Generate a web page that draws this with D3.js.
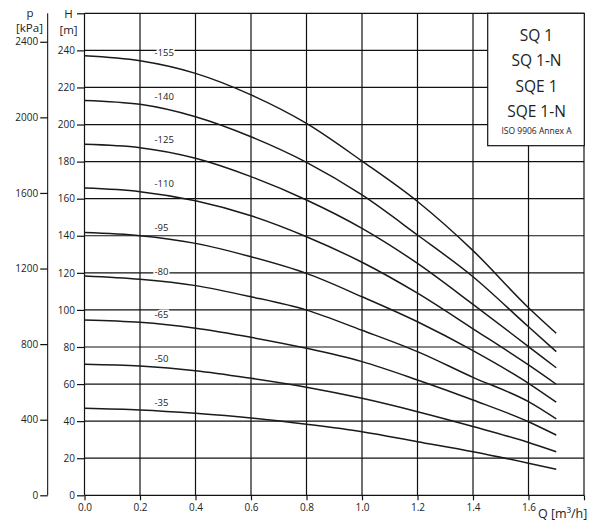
<!DOCTYPE html>
<html>
<head>
<meta charset="utf-8">
<script src="https://cdn.jsdelivr.net/npm/d3@7"></script>
<style>
  body { margin: 0; background: #fff; }
  svg { display: block; font-family: "Open Sans", sans-serif; }
</style>
</head>
<body>
<script>
// Données (H en m en fonction de Q en m³/h)
const flows = [0, 0.2, 0.4, 0.6, 0.8, 1.0, 1.2, 1.4, 1.6, 1.7]
const stages = ['-155', '-140', '-125', '-110', '-95', '-80', '-65', '-50', '-35']
const head155 = [237.1, 234.4, 227.6, 216.0, 200.6, 180.3, 158.5, 132.0, 101.2, 87.4]
const head140 = [213.0, 210.9, 204.2, 193.4, 179.6, 162.0, 140.4, 117.9, 90.9, 77.5]
const head125 = [189.3, 187.5, 181.8, 171.9, 159.3, 144.0, 125.1, 103.0, 80.2, 68.8]
const head110 = [165.7, 163.8, 158.9, 150.8, 139.5, 125.7, 109.0, 89.8, 70.3, 59.9]
const head95 = [141.7, 140.0, 135.9, 128.7, 119.7, 107.1, 93.6, 78.0, 60.4, 50.2]
const head80 = [118.3, 116.5, 113.1, 107.1, 99.9, 89.0, 77.5, 63.6, 50.5, 41.2]
const head65 = [94.6, 93.3, 90.1, 85.2, 79.3, 72.1, 62.2, 51.4, 39.7, 32.5]
const head50 = [70.7, 69.7, 67.2, 63.1, 58.3, 52.3, 45.1, 37.1, 28.5, 23.5]
const head35 = [46.9, 46.0, 44.2, 41.7, 38.3, 34.3, 28.9, 23.5, 17.3, 14.0]
const heads = [head155, head140, head125, head110, head95, head80, head65, head50, head35]

// Ticks des axes
const qTicks = [0, 0.2, 0.4, 0.6, 0.8, 1.0, 1.2, 1.4, 1.6]
const hTicks = [0, 20, 40, 60, 80, 100, 120, 140, 160, 180, 200, 220, 240]
const pTicks = [0, 400, 800, 1200, 1600, 2000, 2400]
const legendLines = ['SQ 1', 'SQ 1-N', 'SQE 1', 'SQE 1-N']
const legendNote = 'ISO 9906 Annex A'

const width = 600, height = 530
const plot = { left: 84.5, right: 584, top: 13.3, bottom: 495.3 }

const svg = d3.select('body').append('svg')
    .attr('width', width)
    .attr('height', height)

// Echelles
const x = d3.scaleLinear().domain([0, 1.8]).range([plot.left, plot.right])
const y = d3.scaleLinear().domain([0, 260]).range([plot.bottom, plot.top])
const p = d3.scaleLinear().domain([0, 260 * 9.81]).range([plot.bottom, plot.top])

// Grille
const grid = svg.append('g').attr('stroke', '#111').attr('stroke-width', 1.2)
grid.selectAll('.hline')
    .data(hTicks.concat([260]))
    .join('line')
    .attr('x1', plot.left).attr('x2', plot.right)
    .attr('y1', d => y(d)).attr('y2', d => y(d))
grid.selectAll('.vline')
    .data(qTicks.concat([1.8]))
    .join('line')
    .attr('x1', d => x(d)).attr('x2', d => x(d))
    .attr('y1', plot.top).attr('y2', plot.bottom)

// Axe H (gauche du graphe)
const hAxis = svg.append('g').attr('transform', `translate(${plot.left},0)`)
hAxis.call(d3.axisLeft(y).tickValues(d3.range(0, 261, 10)).tickSize(3.5).tickFormat(''))
hAxis.call(d3.axisLeft(y).tickValues(hTicks.concat([260])).tickSize(7.5).tickFormat(d => d == 260 ? '' : d))
hAxis.select('.domain').remove()

// Axe p en kPa
const pAxis = svg.append('g').attr('transform', 'translate(47.7,0)')
pAxis.call(d3.axisLeft(p).tickValues(d3.range(0, 2401, 100)).tickSize(3.5).tickFormat(''))
pAxis.call(d3.axisLeft(p).tickValues(pTicks).tickSize(7.5).tickFormat(d => d))
pAxis.select('.domain').attr('d', `M0,${plot.bottom}V${plot.top}`)

// Axe Q en bas
const qAxis = svg.append('g').attr('transform', `translate(0,${plot.bottom})`)
qAxis.call(d3.axisBottom(x).tickValues(d3.range(0, 1.81, 0.1)).tickSize(3).tickFormat(''))
qAxis.call(d3.axisBottom(x).tickValues(qTicks.concat([1.8])).tickSize(5).tickFormat(d => d == 1.8 ? '' : d3.format('.1f')(d)))
qAxis.selectAll('.domain').remove()

// Style commun des ticks
svg.selectAll('.tick line').attr('stroke', '#111').attr('stroke-width', 1.2)
svg.selectAll('.tick text')
    .attr('fill', '#222')
    .style('font-size', '10px')
    .style('font-family', '"Open Sans", sans-serif')
hAxis.selectAll('.tick text').attr('x', -9.5)
pAxis.selectAll('.tick text').attr('x', -9.5)
qAxis.selectAll('.tick text').attr('y', 9)

// Titres des axes
const titles = svg.append('g').attr('fill', '#222').style('font-size', '11.5px')
titles.append('text').attr('x', 68.5).attr('y', 17.5).attr('text-anchor', 'middle').text('H')
titles.append('text').attr('x', 68.5).attr('y', 33.5).attr('text-anchor', 'middle').text('[m]')
titles.append('text').attr('x', 30).attr('y', 16.5).attr('text-anchor', 'middle').text('p')
titles.append('text').attr('x', 29.5).attr('y', 32).attr('text-anchor', 'middle').text('[kPa]')
titles.append('text').attr('x', 538).attr('y', 518).style('font-size', '12.5px').text('Q [m³/h]')

// Courbes
const line = d3.line()
    .x((d, i) => x(flows[i]))
    .y(d => y(d))
    .curve(d3.curveMonotoneX)

svg.append('g')
    .selectAll('path')
    .data(heads)
    .join('path')
    .attr('d', d => line(d))
    .attr('fill', 'none')
    .attr('stroke', '#1a1a1a')
    .attr('stroke-width', 1.5)

// Etiquettes des courbes (fond blanc pour couper la grille)
svg.append('g')
    .selectAll('text')
    .data(stages)
    .join('text')
    .attr('x', 154.5)
    .attr('y', (d, i) => y(heads[i][1]) - 4.5)
    .style('font-size', '9.5px')
    .attr('fill', '#222')
    .attr('stroke', '#fff')
    .attr('stroke-width', 3)
    .attr('paint-order', 'stroke')
    .text(d => d)

// Cartouche
const legend = svg.append('g')
legend.append('rect')
    .attr('x', 487.7).attr('y', 13.3)
    .attr('width', 96.6).attr('height', 132.4)
    .attr('fill', '#fff')
    .attr('stroke', '#111')
    .attr('stroke-width', 1.2)
legend.selectAll('.name')
    .data(legendLines)
    .join('text')
    .attr('class', 'name')
    .attr('x', 536.5)
    .attr('y', (d, i) => [40.7, 65.7, 91.7, 117.3][i])
    .attr('text-anchor', 'middle')
    .style('font-size', '15.5px')
    .attr('fill', '#222')
    .text(d => d)
legend.append('text')
    .attr('x', 536.5).attr('y', 133.7)
    .attr('text-anchor', 'middle')
    .style('font-size', '8.5px')
    .attr('fill', '#222')
    .text(legendNote)
</script>
</body>
</html>
